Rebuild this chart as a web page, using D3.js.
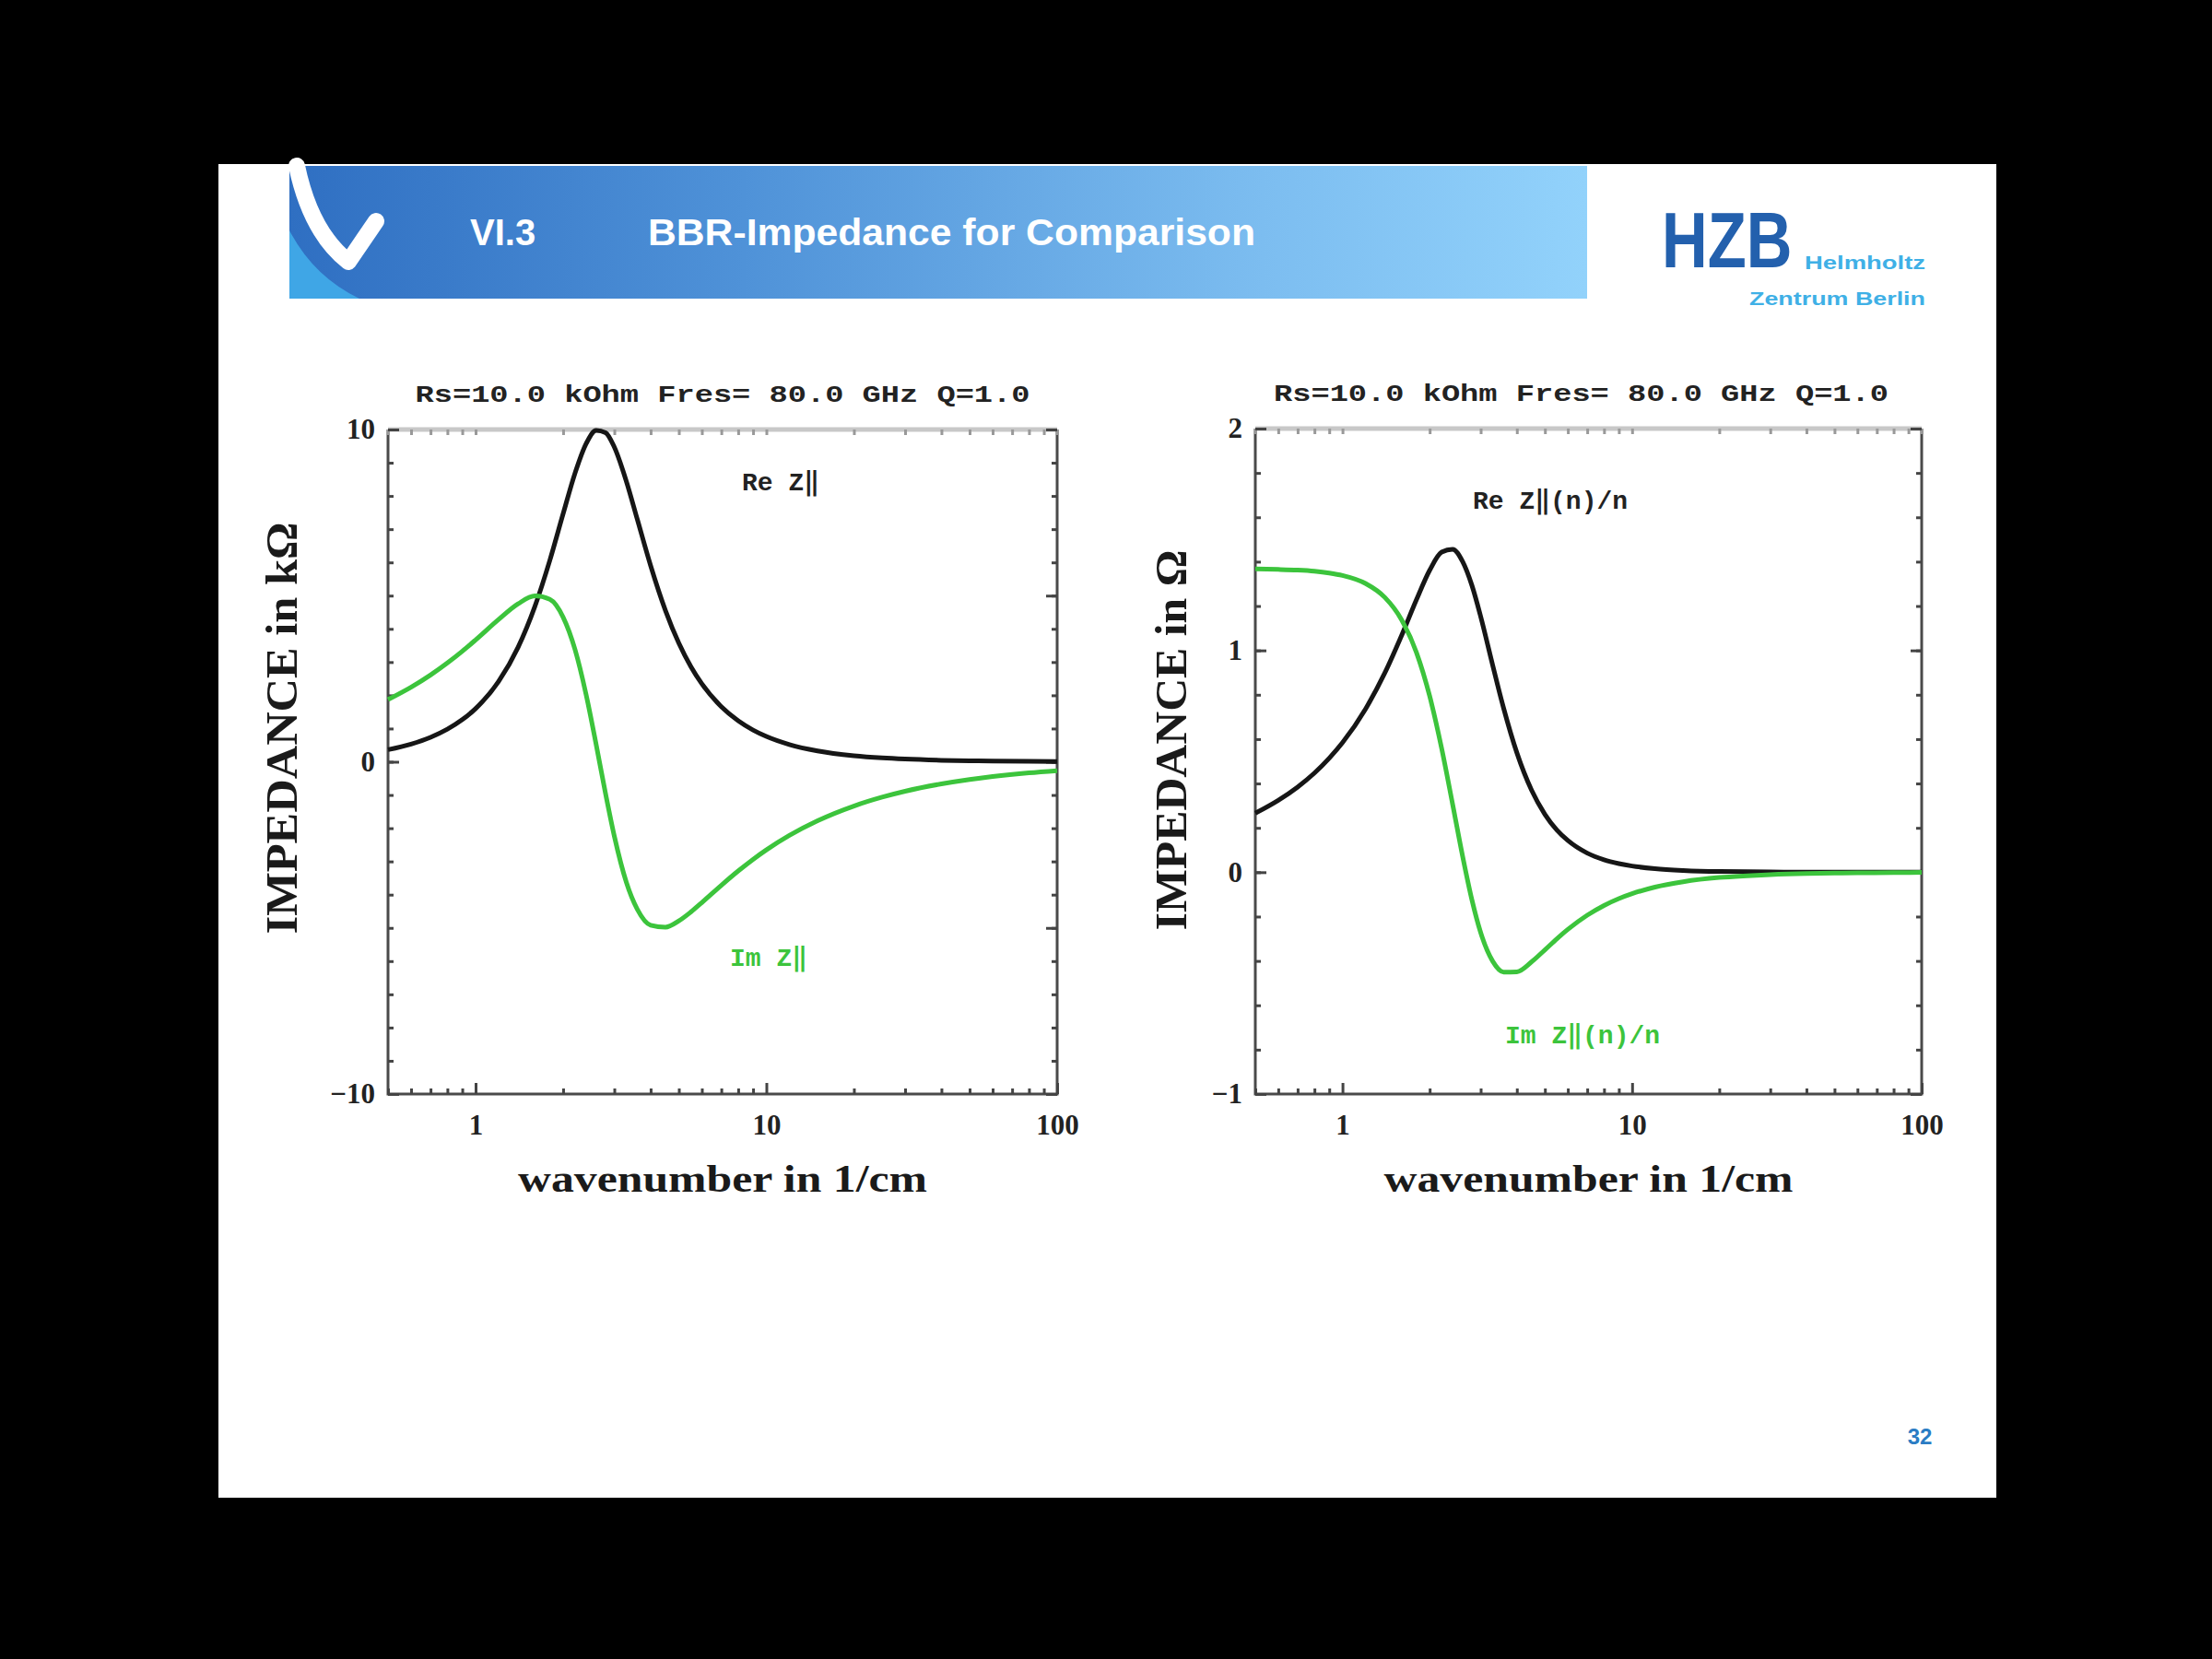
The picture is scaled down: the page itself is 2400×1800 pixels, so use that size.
<!DOCTYPE html>
<html><head><meta charset="utf-8">
<script src="https://cdn.jsdelivr.net/npm/d3@7"></script>
<style>html,body{margin:0;padding:0;background:#000;}svg{display:block;}</style>
</head><body>
<script>
// ---- data ----
const wavenumber = [0.5,0.6,0.7,0.8,0.9,1.0,1.2,1.4,1.6,1.8,2.0,2.2,2.4,2.6,2.8,3.0,3.3,3.6,4.0,4.5,5,5.5,6,7,8,9,10,12,15,20,25,30,40,50,60,80,100];
// left panel, kOhm
const reZ = [0.364,0.532,0.736,0.980,1.267,1.600,2.415,3.443,4.677,6.057,7.460,8.697,9.574,9.974,9.906,9.472,8.442,7.294,5.902,4.548,3.571,2.866,2.347,1.657,1.233,0.954,0.761,0.518,0.326,0.181,0.115,0.080,0.045,0.029,0.020,0.011,0.007];
const imZ = [1.873,2.244,2.612,2.974,3.326,3.666,4.280,4.752,4.990,4.888,4.353,3.366,2.020,0.507,-0.966,-2.236,-3.626,-4.442,-4.918,-4.980,-4.791,-4.522,-4.238,-3.718,-3.288,-2.938,-2.652,-2.217,-1.776,-1.333,-1.067,-0.889,-0.667,-0.533,-0.444,-0.333,-0.267];
// right panel, Ohm
const reZn = [0.266,0.324,0.384,0.447,0.514,0.584,0.735,0.898,1.067,1.228,1.361,1.443,1.456,1.400,1.292,1.153,0.934,0.740,0.539,0.369,0.261,0.190,0.143,0.086,0.056,0.039,0.028,0.016,0.008,0.003,0.002,0.001,0.000,0.000,0.000,0.000,0.000];
const imZn = [1.367,1.365,1.362,1.357,1.349,1.338,1.302,1.239,1.138,0.991,0.794,0.558,0.307,0.071,-0.126,-0.272,-0.401,-0.450,-0.449,-0.404,-0.350,-0.300,-0.258,-0.194,-0.150,-0.119,-0.097,-0.067,-0.043,-0.024,-0.016,-0.011,-0.006,-0.004,-0.003,-0.002,-0.001];
const xTickValues = [1,10,100];
const xMinorValues = [0.5,0.6,0.7,0.8,0.9,2,3,4,5,6,7,8,9,20,30,40,50,60,70,80,90];
const yTicksLeft = [-10,0,10];
const yTicksRight = [-1,0,1,2];
const titleText = "Rs=10.0 kOhm   Fres= 80.0 GHz   Q=1.0";

const W = 2400, H = 1800;
const svg = d3.select("body").append("svg").attr("width", W).attr("height", H);
const defs = svg.append("defs");
const grad = defs.append("linearGradient").attr("id","banner").attr("x1","0").attr("x2","1").attr("y1","0").attr("y2","0");
grad.append("stop").attr("offset","0%").attr("stop-color","#2f6fc2");
grad.append("stop").attr("offset","35%").attr("stop-color","#4f92d8");
grad.append("stop").attr("offset","75%").attr("stop-color","#7cbdf0");
grad.append("stop").attr("offset","100%").attr("stop-color","#92d2fb");

svg.append("rect").attr("width",W).attr("height",H).attr("fill","#000");
svg.append("rect").attr("x",237).attr("y",178).attr("width",1929).attr("height",1447).attr("fill","#fff");

// banner
svg.append("rect").attr("x",314).attr("y",180).attr("width",1408).attr("height",144).attr("fill","url(#banner)");
svg.append("path").attr("d","M314 250 Q 340 300 390 324 L314 324 Z").attr("fill","#3fa6e6");
svg.append("path").attr("d","M322 180 C 332 228, 350 262, 378 284 L 408 240")
  .attr("fill","none").attr("stroke","#fff").attr("stroke-width",18).attr("stroke-linecap","round").attr("stroke-linejoin","round");
svg.append("text").attr("x",510).attr("y",266).attr("fill","#fff").attr("font-family","Liberation Sans, Arial, sans-serif")
  .attr("font-weight","bold").attr("font-size",40).text("VI.3");
svg.append("text").attr("x",703).attr("y",266).attr("fill","#fff").attr("font-family","Liberation Sans, Arial, sans-serif")
  .attr("font-weight","bold").attr("font-size",40).attr("textLength",659).attr("lengthAdjust","spacingAndGlyphs").text("BBR-Impedance for Comparison");
// logo
svg.append("text").attr("transform","translate(1803,290) scale(0.8,1)").attr("fill","#2360ad").attr("font-family","Liberation Sans, Arial, sans-serif")
  .attr("font-weight","bold").attr("font-size",86).text("HZB");
svg.append("text").attr("x",1958).attr("y",292).attr("fill","#3fb0e6").attr("font-family","Liberation Sans, Arial, sans-serif")
  .attr("font-weight","bold").attr("font-size",20).attr("textLength",131).attr("lengthAdjust","spacingAndGlyphs").text("Helmholtz");
svg.append("text").attr("x",1898).attr("y",331).attr("fill","#3fb0e6").attr("font-family","Liberation Sans, Arial, sans-serif")
  .attr("font-weight","bold").attr("font-size",20).attr("textLength",191).attr("lengthAdjust","spacingAndGlyphs").text("Zentrum Berlin");
svg.append("text").attr("x",2083).attr("y",1567).attr("text-anchor","middle").attr("fill","#2a7cc4").attr("font-family","Liberation Sans, Arial, sans-serif")
  .attr("font-weight","bold").attr("font-size",24).text("32");

const serif = "Liberation Serif, Times New Roman, serif";
const mono = "Liberation Mono, Courier New, monospace";
const green = "#3cc43c", black = "#161616";

function panel(cfg) {
  const x = d3.scaleLog().domain([0.5,100]).range([cfg.x0, cfg.x1]);
  const y = d3.scaleLinear().domain(cfg.yDomain).range([cfg.y1, cfg.y0]);
  const g = svg.append("g");

  // title
  g.append("text").attr("x",(cfg.x0+cfg.x1)/2+cfg.titleDx).attr("y",cfg.y0-30).attr("text-anchor","middle")
    .attr("font-family",mono).attr("font-weight","bold").attr("font-size",26).attr("fill","#222")
    .attr("textLength",667).attr("lengthAdjust","spacingAndGlyphs").text(titleText);

  // frame
  g.append("line").attr("x1",cfg.x0).attr("x2",cfg.x1).attr("y1",cfg.y0).attr("y2",cfg.y0).attr("stroke","#c8c8c8").attr("stroke-width",5);
  g.append("path").attr("d",`M${cfg.x0},${cfg.y0}V${cfg.y1}H${cfg.x1}V${cfg.y0}`).attr("fill","none").attr("stroke","#4a4a4a").attr("stroke-width",3);

  const bx = g.append("g").attr("transform",`translate(0,${cfg.y1})`)
    .call(d3.axisBottom(x).tickValues(xTickValues).tickSize(-12).tickPadding(22).tickFormat(d3.format("d")));
  const bm = g.append("g").attr("transform",`translate(0,${cfg.y1})`)
    .call(d3.axisBottom(x).tickValues(xMinorValues).tickSize(-6).tickFormat(""));
  const tm = g.append("g").attr("transform",`translate(0,${cfg.y0})`)
    .call(d3.axisTop(x).tickValues(xMinorValues.concat(xTickValues)).tickSize(-6).tickFormat(""));
  const ly = g.append("g").attr("transform",`translate(${cfg.x0},0)`)
    .call(d3.axisLeft(y).tickValues(cfg.yTicks).tickSize(-12).tickPadding(14).tickFormat(d3.format("d")));
  const lym = g.append("g").attr("transform",`translate(${cfg.x0},0)`)
    .call(d3.axisLeft(y).tickValues(d3.range(cfg.yDomain[0], cfg.yDomain[1]+1e-9, cfg.yMinor)).tickSize(-6).tickFormat(""));
  const ry = g.append("g").attr("transform",`translate(${cfg.x1},0)`)
    .call(d3.axisRight(y).tickValues(cfg.yRightTicks).tickSize(-12).tickFormat(""));
  const rym = g.append("g").attr("transform",`translate(${cfg.x1},0)`)
    .call(d3.axisRight(y).tickValues(d3.range(cfg.yDomain[0], cfg.yDomain[1]+1e-9, cfg.yMinor)).tickSize(-6).tickFormat(""));
  [bx,bm,tm,ly,lym,ry,rym].forEach(a => {
    a.select(".domain").remove();
    a.selectAll(".tick line").attr("stroke","#444").attr("stroke-width",3);
    a.selectAll(".tick text").attr("font-family",serif).attr("font-weight","bold").attr("font-size",31).attr("fill","#222");
  });
  tm.selectAll(".tick line").attr("stroke","#999");

  g.append("text").attr("x",(cfg.x0+cfg.x1)/2).attr("y",1293).attr("text-anchor","middle")
    .attr("font-family",serif).attr("font-weight","bold").attr("font-size",42).attr("fill","#1a1a1a")
    .attr("textLength",444).attr("lengthAdjust","spacingAndGlyphs").text("wavenumber in 1/cm");
  g.append("text").attr("transform",`translate(${cfg.ylabX},${cfg.ylabY}) rotate(-90)`).attr("text-anchor","middle").attr("dy","0.35em")
    .attr("font-family",serif).attr("font-weight","bold").attr("font-size",48).attr("fill","#1a1a1a")
    .attr("textLength",cfg.ylabLen).attr("lengthAdjust","spacingAndGlyphs").text(cfg.ylab);

  const line = d3.line().x((d,i) => x(wavenumber[i])).y(d => y(d)).curve(d3.curveMonotoneX);
  g.append("path").datum(cfg.re).attr("d",line).attr("fill","none").attr("stroke",black).attr("stroke-width",5);
  g.append("path").datum(cfg.im).attr("d",line).attr("fill","none").attr("stroke",green).attr("stroke-width",5);

  g.append("text").attr("x",cfg.reLab[0]).attr("y",cfg.reLab[1]).attr("font-family",mono).attr("font-weight","bold")
    .attr("font-size",28).attr("fill","#222").text(cfg.reText);
  g.append("text").attr("x",cfg.imLab[0]).attr("y",cfg.imLab[1]).attr("font-family",mono).attr("font-weight","bold")
    .attr("font-size",28).attr("fill",green).text(cfg.imText);
}

panel({x0:421,x1:1147,y0:466,y1:1187,yDomain:[-10,10],yTicks:yTicksLeft,yRightTicks:[-10,-5,0,5,10],yMinor:1,
  re:reZ,im:imZ,titleDx:0,ylab:"IMPEDANCE in kΩ",ylabX:305,ylabY:790,ylabLen:447,
  reText:"Re Z\u2016",imText:"Im Z\u2016",reLab:[805,532],imLab:[792,1048]});
panel({x0:1362,x1:2085,y0:465,y1:1187,yDomain:[-1,2],yTicks:yTicksRight,yRightTicks:yTicksRight,yMinor:0.2,
  re:reZn,im:imZn,titleDx:-8,ylab:"IMPEDANCE in Ω",ylabX:1270,ylabY:803,ylabLen:413,
  reText:"Re Z\u2016(n)/n",imText:"Im Z\u2016(n)/n",reLab:[1598,552],imLab:[1633,1132]});
</script>
</body></html>
